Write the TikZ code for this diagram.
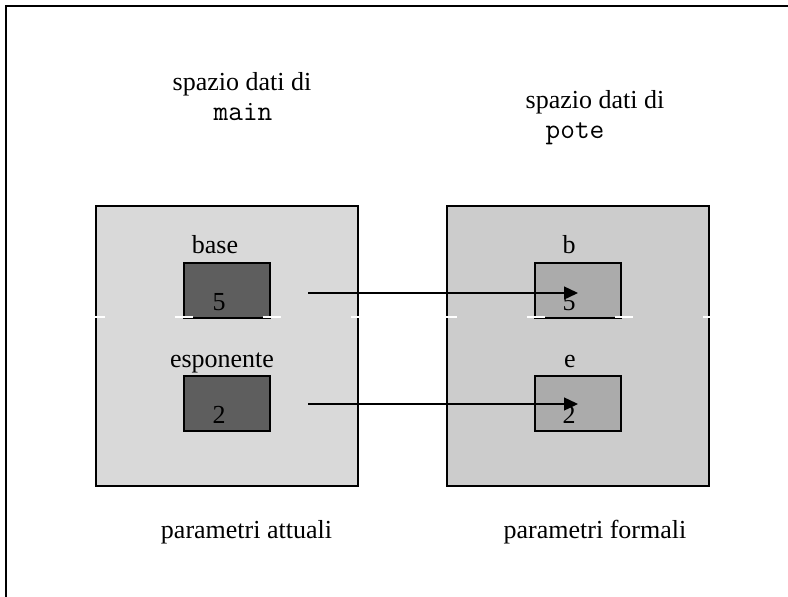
\documentclass[tikz,border=0pt]{standalone}
\usepackage{fontspec}
\setmainfont{Liberation Serif}
\usetikzlibrary{arrows.meta}
\definecolor{mainfill}{gray}{0.85}
\definecolor{potefill}{gray}{0.80}
\definecolor{actcell}{gray}{0.37}
\definecolor{formcell}{gray}{0.67}

\begin{document}
\begin{tikzpicture}[x=1pt,y=-1pt,
    every node/.style={font=\fontsize{26}{30}\selectfont,inner sep=0pt},
    lbl/.style={anchor=base},
    code/.style={anchor=base,font=\fontsize{28.5}{30}\selectfont\ttfamily},
    area/.style={draw=black,line width=2pt,minimum width=262pt,minimum height=280pt},
    cell/.style={draw=black,line width=2pt,minimum width=86pt,minimum height=55pt},
    link/.style={-{Triangle[length=14pt,width=13pt]},line width=1.4pt}]
  \useasboundingbox (0,0) rectangle (788,597);
  % frame
  \draw[line width=2.2pt] (6,597) -- (6,6) -- (788,6);
  % data spaces
  \node[area,fill=mainfill] (mainarea) at (227,346) {};
  \node[area,fill=potefill] (potearea) at (577.5,346) {};
  \node[lbl] (maintitle) at (242,90) {spazio dati di};
  \node[code] (mainname) at (243,120) {main};
  \node[lbl] (potetitle) at (595,108) {spazio dati di};
  \node[code] (potename) at (575,138) {pote};
  % variables
  \node[cell,fill=actcell] (base) at (227,290.5) {};
  \node[cell,fill=actcell] (esp) at (227,403) {};
  \node[cell,fill=formcell] (b) at (577.5,290.5) {};
  \node[cell,fill=formcell] (e) at (577.5,403) {};
  \node[lbl] (baselbl) at (215,253) {base};
  \node[lbl] (esplbl) at (222,367) {esponente};
  \node[lbl] (blbl) at (569,253) {b};
  \node[lbl] (elbl) at (570,367) {e};
  \node[lbl] (baseval) at (219,310) {5};
  \node[lbl] (espval) at (219,423) {2};
  \node[lbl] (bval) at (569,310) {5};
  \node[lbl] (eval) at (569,423) {2};
  % parameter passing
  \coordinate (from1) at (308,293);
  \coordinate (to1) at (578,293);
  \coordinate (from2) at (308,404);
  \coordinate (to2) at (578,404);
  \draw[link] (from1) -- (to1);
  \draw[link] (from2) -- (to2);
  \draw[white,line width=1.2pt,dash pattern=on 18pt off 70pt] (87,317) -- (721,317);
  \node[lbl] (attuali) at (246.5,538) {parametri attuali};
  \node[lbl] (formali) at (595,538) {parametri formali};
\end{tikzpicture}
\end{document}
